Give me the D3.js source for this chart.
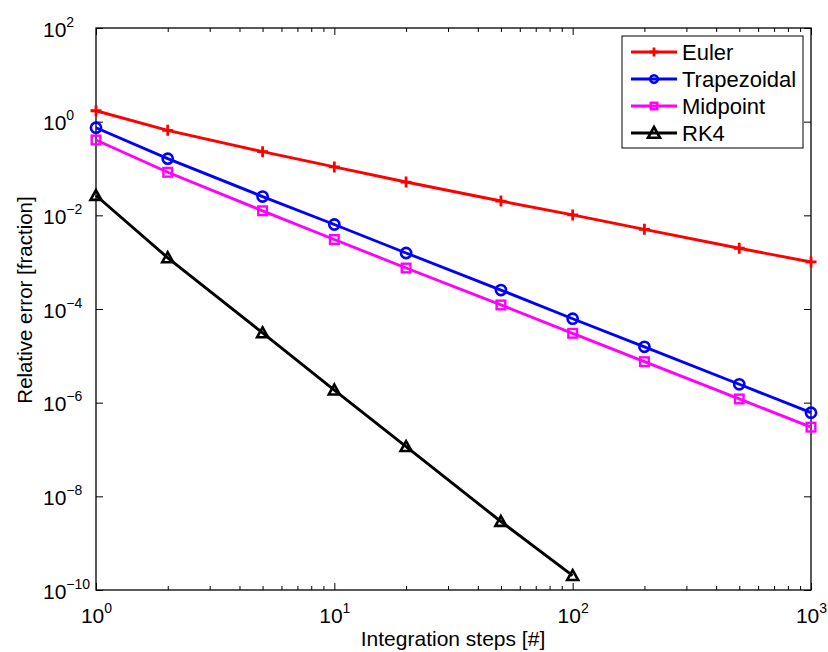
<!DOCTYPE html>
<html>
<head>
<meta charset="utf-8">
<script src="https://cdnjs.cloudflare.com/ajax/libs/d3/7.8.5/d3.min.js"></script>
<style>
  body { margin: 0; background: #fff; }
  svg { display: block; font-family: "Liberation Sans", Arial, sans-serif; }
</style>
</head>
<body>
<svg id="chart" width="828" height="652"></svg>
<script>
// integration steps (x) and relative error per method (y)
const steps = [1, 2, 5, 10, 20, 50, 100, 200, 500, 1000];
const eulerErr = [1.71, 0.654, 0.229, 0.108, 0.0514, 0.0202, 0.0102, 0.00503, 0.00198, 0.00101];
const trapErr = [0.743, 0.162, 0.0252, 0.00637, 0.00157, 2.54e-4, 6.2e-5, 1.56e-5, 2.47e-6, 6.1e-7];
const midErr = [0.406, 0.083, 0.0125, 0.00305, 7.5e-4, 1.22e-4, 3.03e-5, 7.5e-6, 1.2e-6, 3.0e-7];
const rk4Steps = [1, 2, 5, 10, 20, 50, 100];
const rk4Err = [0.0265, 1.24e-3, 3.1e-5, 1.86e-6, 1.15e-7, 2.9e-9, 2.03e-10];

const xMajor = [1, 10, 100, 1000];
const yMajor = [1e-10, 1e-8, 1e-6, 1e-4, 1e-2, 1, 1e2];
const xLabels = ['0', '1', '2', '3'];
const yLabels = ['\u221210', '\u22128', '\u22126', '\u22124', '\u22122', '0', '2'];

const seriesNames = ['Euler', 'Trapezoidal', 'Midpoint', 'RK4'];
const seriesColors = ['#ff0000', '#0000ff', '#ff00ff', '#000000'];
const seriesMarkers = ['plus', 'circle', 'square', 'triangle'];

const svg = d3.select('#chart');
const pLeft = 96, pRight = 811, pTop = 28, pBottom = 590;

const x = d3.scaleLog().domain([1, 1000]).range([pLeft, pRight]);
const y = d3.scaleLog().domain([1e-10, 1e2]).range([pBottom, pTop]);

// minor ticks 2..9 per decade
const xMinor = [];
[1, 10, 100].forEach(d => { for (let k = 2; k <= 9; k++) xMinor.push(d * k); });

// frame
svg.append('rect').attr('x', pLeft).attr('y', pTop)
  .attr('width', pRight - pLeft).attr('height', pBottom - pTop)
  .attr('fill', 'none').attr('stroke', '#000').attr('stroke-width', 1.3);

function plainAxis(g) {
  g.select('.domain').remove();
  g.selectAll('line').attr('stroke', '#000').attr('stroke-width', 1);
}

// minor ticks bottom/top
svg.append('g').attr('transform', `translate(0,${pBottom})`)
  .call(d3.axisBottom(x).tickValues(xMinor).tickSize(-4).tickFormat(''))
  .call(plainAxis);
svg.append('g').attr('transform', `translate(0,${pTop})`)
  .call(d3.axisTop(x).tickValues(xMinor).tickSize(-4).tickFormat(''))
  .call(plainAxis);

// major x ticks with labels
const xAxisG = svg.append('g').attr('transform', `translate(0,${pBottom})`)
  .call(d3.axisBottom(x).tickValues(xMajor).tickSize(-7).tickFormat(''))
  .call(plainAxis);
svg.append('g').attr('transform', `translate(0,${pTop})`)
  .call(d3.axisTop(x).tickValues(xMajor).tickSize(-7).tickFormat(''))
  .call(plainAxis);

xAxisG.selectAll('.tick').each(function(d, i) {
  const t = d3.select(this).append('text')
    .attr('y', 33).attr('text-anchor', 'middle')
    .attr('fill', '#000').style('font-size', '21px');
  t.append('tspan').text('10');
  t.append('tspan').attr('dy', -10).style('font-size', '14px').text(xLabels[i]);
});

// y ticks
const yAxisG = svg.append('g').attr('transform', `translate(${pLeft},0)`)
  .call(d3.axisLeft(y).tickValues(yMajor).tickSize(-7).tickFormat(''))
  .call(plainAxis);
svg.append('g').attr('transform', `translate(${pRight},0)`)
  .call(d3.axisRight(y).tickValues(yMajor).tickSize(-7).tickFormat(''))
  .call(plainAxis);

yAxisG.selectAll('.tick').each(function(d, i) {
  const t = d3.select(this).append('text')
    .attr('x', -53).attr('y', 8).attr('text-anchor', 'start')
    .attr('fill', '#000').style('font-size', '21px');
  t.append('tspan').text('10');
  t.append('tspan').attr('dy', -10).style('font-size', '14px').text(yLabels[i]);
});

// axis titles
svg.append('text').attr('x', 453).attr('y', 646).attr('text-anchor', 'middle')
  .style('font-size', '21px').text('Integration steps [#]');
svg.append('text').attr('transform', 'translate(32,300) rotate(-90)')
  .attr('text-anchor', 'middle').style('font-size', '20.5px')
  .text('Relative error [fraction]');

function drawMarker(g, type, color, s) {
  if (type === 'plus') {
    g.append('path').attr('d', `M${-s},0H${s}M0,${-s}V${s}`)
      .attr('stroke', color).attr('stroke-width', 2.8).attr('fill', 'none');
  } else if (type === 'circle') {
    g.append('circle').attr('r', s * 0.85)
      .attr('stroke', color).attr('stroke-width', 2.6).attr('fill', 'none');
  } else if (type === 'square') {
    const h = s * 0.72;
    g.append('rect').attr('x', -h).attr('y', -h).attr('width', 2 * h).attr('height', 2 * h)
      .attr('stroke', color).attr('stroke-width', 2.4).attr('fill', 'none');
  } else {
    g.append('path').attr('d', `M0,${-s}L${s},${s * 0.8}L${-s},${s * 0.8}Z`)
      .attr('stroke', color).attr('stroke-width', 2.6).attr('fill', 'none');
  }
}

const seriesData = [
  steps.map((s, i) => [s, eulerErr[i]]),
  steps.map((s, i) => [s, trapErr[i]]),
  steps.map((s, i) => [s, midErr[i]]),
  rk4Steps.map((s, i) => [s, rk4Err[i]])
];

const markerSize = { plus: 5.5, circle: 6, square: 6, triangle: 5.5 };
const line = d3.line().x(d => x(d[0])).y(d => y(d[1]));

seriesData.forEach((data, k) => {
  svg.append('path').datum(data).attr('d', line)
    .attr('fill', 'none').attr('stroke', seriesColors[k]).attr('stroke-width', 2.9);
  data.forEach(d => {
    const g = svg.append('g').attr('transform', `translate(${x(d[0])},${y(d[1])})`);
    drawMarker(g, seriesMarkers[k], seriesColors[k], markerSize[seriesMarkers[k]]);
  });
});

// legend
const legend = svg.append('g');
legend.append('rect').attr('x', 622).attr('y', 36).attr('width', 181).attr('height', 112)
  .attr('fill', '#fff').attr('stroke', '#000').attr('stroke-width', 1);
seriesNames.forEach((name, k) => {
  const ly = 52 + k * 27;
  legend.append('line').attr('x1', 631).attr('x2', 677).attr('y1', ly).attr('y2', ly)
    .attr('stroke', seriesColors[k]).attr('stroke-width', 2.9);
  const g = legend.append('g').attr('transform', `translate(654,${ly})`);
  drawMarker(g, seriesMarkers[k], seriesColors[k], seriesMarkers[k] === 'triangle' ? 6 : 4.5);
  legend.append('text').attr('x', 682).attr('y', ly + 8)
    .style('font-size', '22px').text(name);
});
</script>
</body>
</html>
